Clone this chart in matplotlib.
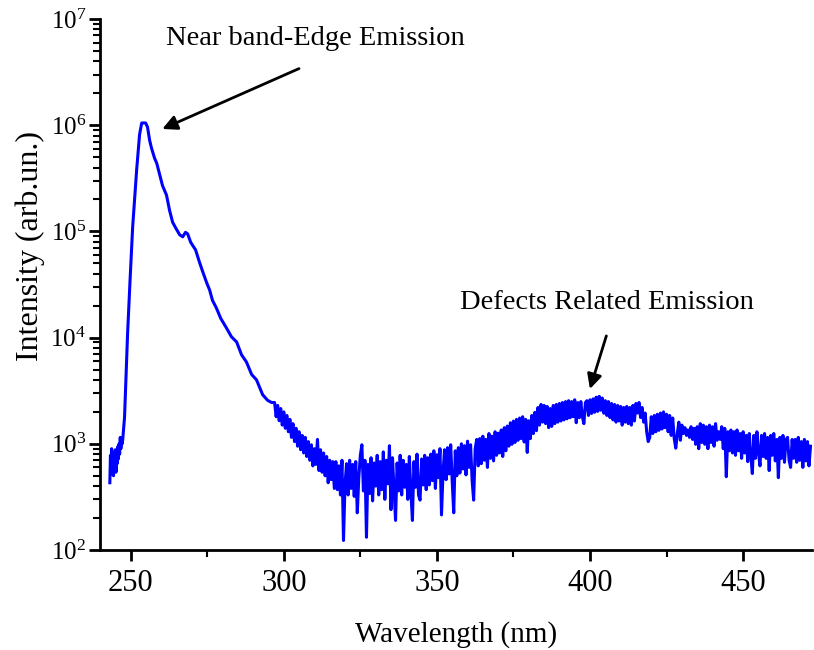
import numpy as np
import matplotlib
matplotlib.use("Agg")
from matplotlib import pyplot as plt
from matplotlib.ticker import LogLocator, MultipleLocator, LogFormatterMathtext

plt.rcParams["font.family"] = ["Liberation Serif", "DejaVu Serif"]
plt.rcParams["mathtext.fontset"] = "custom"
plt.rcParams["mathtext.rm"] = "Liberation Serif"
plt.rcParams["mathtext.it"] = "Liberation Serif:italic"

# noisy start of the spectrum (nm, counts)
wl_start = [243.2, 243.4, 243.6, 243.8, 244.0, 244.2, 244.4, 244.6, 244.8, 245.0,
            245.2, 245.4, 245.6, 245.8, 246.0, 246.2, 246.4, 246.6, 246.8, 247.0, 247.2]
int_start = [430, 780, 520, 900, 560, 820, 500, 760, 620, 880,
             540, 800, 650, 940, 720, 1000, 800, 1150, 900, 1100, 1000]

# band edge peak and its tail
wl_peak = [247.4, 248.0, 249.0, 249.8, 250.65, 251.96, 252.9, 253.6, 254.9, 255.5,
           256.2, 256.8, 257.8, 258.5, 259.5, 260.4, 261.7, 262.7, 263.7, 264.7,
           266.0, 267.0, 267.9, 268.6, 269.6, 271.2, 272.5, 273.5, 274.8, 275.8,
           276.7, 278.0, 279.4, 281.3, 282.9, 284.6, 286.2, 287.8, 289.5, 291.1,
           293.1, 294.7, 296.0]
int_peak = [1090, 1780, 11000, 34700, 110000, 382000, 814000, 1050000, 1050000, 960000,
            720000, 610000, 490000, 440000, 340000, 270000, 220000, 158000, 122000, 108000,
            93000, 89000, 98000, 95000, 79000, 67000, 51000, 42000, 33000, 28000,
            22500, 19000, 15200, 12300, 10200, 9100, 6900, 5900, 4500, 4000,
            2900, 2570, 2450]

# noisy part, sampled every 0.5 nm from 297 to 472 nm (one row = 5 nm)
wl_noise_start = 297.0
wl_noise_step = 0.5
int_noise = [
    2450, 1800, 2300, 1650, 2150, 1500, 2000, 1400, 1850, 1300,
    1700, 1150, 1550, 1050, 1400, 950, 1300, 880, 1200, 820,
    1150, 760, 1050, 700, 980, 620, 900, 640, 1100, 560,
    880, 540, 820, 500, 760, 430, 700, 460, 680, 380,
    680, 370, 620, 330, 700, 123, 420, 650, 330, 700,
    380, 640, 320, 680, 224, 480, 780, 980, 360, 700,
    132, 640, 340, 740, 290, 660, 400, 780, 330, 680,
    370, 840, 300, 700, 420, 960, 240, 740, 370, 190,
    660, 360, 780, 330, 700, 390, 640, 300, 760, 360,
    190, 680, 390, 800, 330, 295, 720, 410, 780, 370,
    740, 410, 800, 450, 860, 380, 790, 480, 900, 214,
    540, 880, 460, 920, 520, 980, 440, 224, 860, 500,
    920, 530, 1000, 580, 960, 510, 1060, 600, 980, 450,
    295, 900, 1100, 620, 1120, 650, 1180, 700, 1100, 600,
    1250, 730, 1180, 690, 1300, 780, 1260, 820, 1350, 760,
    1420, 860, 1470, 950, 1580, 990, 1640, 1030, 1700, 1080,
    1750, 1120, 1800, 1040, 1700, 830, 1650, 1120, 1850, 1250,
    1980, 1330, 2200, 1500, 2350, 1600, 2300, 1550, 2250, 1420,
    2150, 1460, 2300, 1550, 2350, 1600, 2400, 1640, 2450, 1680,
    2500, 1720, 2550, 1760, 2500, 1800, 2600, 1580, 2450, 1760,
    2500, 1800, 1550, 2450, 2550, 1850, 2600, 1930, 2650, 1980,
    2750, 2020, 2800, 2070, 2700, 1940, 2550, 1850, 2500, 1770,
    2400, 1680, 2350, 1600, 2300, 1640, 2250, 1500, 2200, 1600,
    2250, 1550, 2200, 1500, 2300, 1640, 2400, 1950, 2450, 1770,
    2200, 1600, 1950, 1300, 1050, 1150, 1800, 1250, 1850, 1300,
    1900, 1340, 1950, 1380, 2000, 1420, 1900, 1300, 1850, 1200,
    1750, 1120, 910, 1250, 1600, 1080, 1500, 1250, 1420, 1200,
    1350, 1150, 1450, 1100, 1400, 990, 1450, 900, 1550, 1030,
    1500, 990, 1450, 900, 1500, 1030, 1450, 950, 1550, 1080,
    1300, 1100, 1450, 900, 1400, 490, 1300, 860, 1350, 820,
    1300, 780, 1350, 860, 1250, 730, 1300, 820, 1200, 680,
    1250, 780, 525, 1200, 730, 1300, 820, 620, 1200, 760,
    1250, 730, 1150, 560, 1200, 780, 1250, 690, 1100, 480,
    1150, 730, 1200, 670, 1100, 1150, 700, 600, 1100, 730,
    1100, 670, 1150, 700, 1050, 600, 1100, 690, 1050, 620,
    950,
]
wl_noise = wl_noise_start + wl_noise_step * np.arange(len(int_noise))

wavelength = np.concatenate([wl_start, wl_peak, wl_noise])
intensity = np.concatenate([int_start, int_peak, int_noise])

fig = plt.figure(figsize=(8.14, 6.5), dpi=100)
ax = fig.add_axes([0.1229, 0.1538, 0.8747, 0.8169])

ax.plot(wavelength, intensity, color="#0000ff", linewidth=2.2)

ax.set_yscale("log")
ax.set_xlim(240, 472.5)
ax.set_ylim(1e2, 1e7)

ax.xaxis.set_major_locator(MultipleLocator(50))
ax.xaxis.set_minor_locator(MultipleLocator(25))
ax.yaxis.set_major_locator(LogLocator(base=10))
ax.yaxis.set_minor_locator(LogLocator(base=10, subs=np.arange(2, 10)))
ax.yaxis.set_major_formatter(LogFormatterMathtext())

for side in ["top", "right"]:
    ax.spines[side].set_visible(False)
for side in ["left", "bottom"]:
    ax.spines[side].set_linewidth(2)

ax.tick_params(which="major", direction="out", length=8, width=2)
ax.tick_params(which="minor", direction="out", length=5, width=1.5)
ax.tick_params(axis="x", which="major", labelsize=22, pad=6)
ax.tick_params(axis="y", which="major", labelsize=18, pad=2)

ax.set_xlabel("Wavelength (nm)", fontsize=21)
ax.xaxis.set_label_coords(0.5, -0.134)
ax.set_ylabel("Intensity (arb.un.)", fontsize=23)
ax.yaxis.set_label_coords(-0.078, 0.572)

arrow = dict(arrowstyle="-|>", color="black", lw=2, mutation_scale=22)
ax.annotate("", xy=(259.5, 9.0e5), xytext=(305.8, 3.5e6), arrowprops=arrow)
ax.text(310.3, 6.6e6, "Near band-Edge Emission", fontsize=20.5, ha="center", va="center")

ax.annotate("", xy=(399.7, 3.1e3), xytext=(405.6, 1.1e4), arrowprops=arrow)
ax.text(405.6, 2.16e4, "Defects Related Emission", fontsize=20.5, ha="center", va="center")

plt.savefig("out.png", dpi=100)
